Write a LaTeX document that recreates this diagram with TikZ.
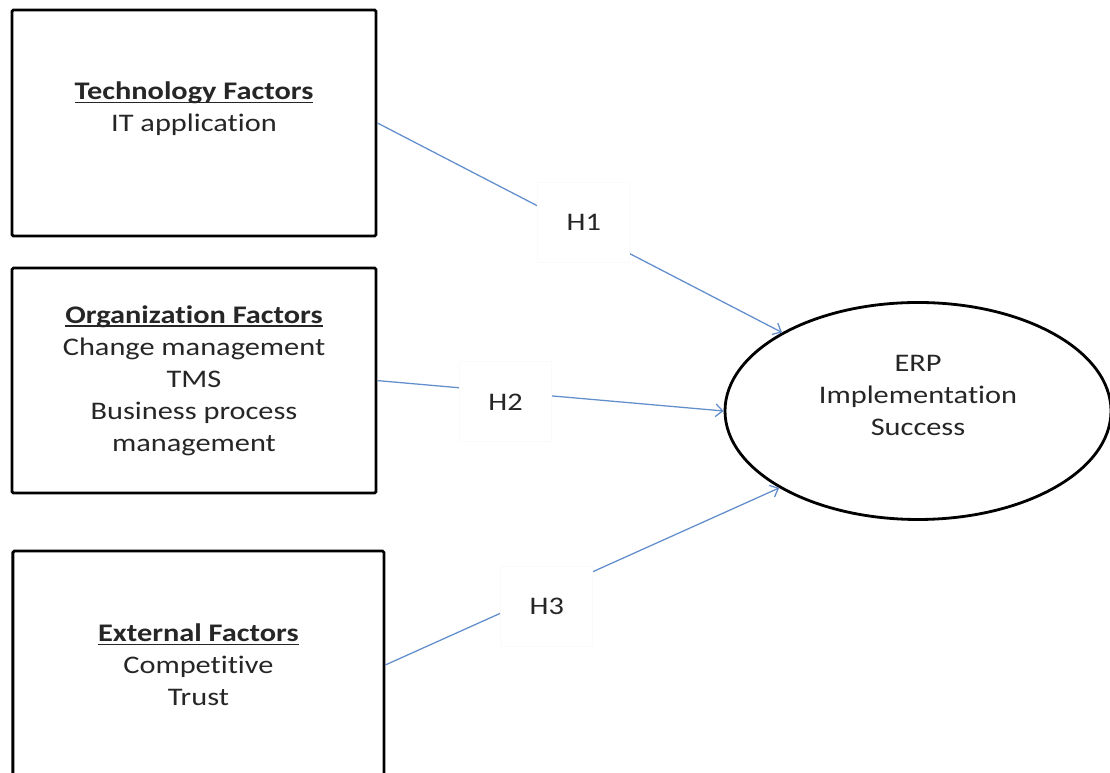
\documentclass[tikz,border=0pt]{standalone}
\usepackage{fontspec}
\setmainfont[FakeStretch=1.2, RawFeature={-liga;-clig;-calt;-dlig}]{Carlito}
\usetikzlibrary{arrows.meta,shapes.geometric}

\definecolor{linkblue}{RGB}{98,142,204}
\definecolor{textgray}{RGB}{38,38,38}
\newcommand{\heading}[1]{\setbox0\hbox{\bfseries #1}\rlap{\rule[-2.6pt]{\wd0}{1.3pt}}\box0}

\tikzset{
  factor/.style={draw, line width=2pt, rounded corners=1pt, minimum width=9.1cm, minimum height=5.65cm, align=center, inner sep=0pt},
  outcome/.style={draw, ellipse, line width=2pt, minimum width=9.65cm, minimum height=5.425cm, align=center, inner sep=0pt},
  hyp/.style={fill=white, draw=black!2, minimum width=2.3cm, minimum height=2cm},
  link/.style={draw=linkblue, line width=0.9pt, -{Straight Barb[length=5pt,width=9pt]}},
}

\begin{document}
\begin{tikzpicture}[every node/.style={font=\fontsize{18}{22.8}\selectfont, text=textgray}]
		\useasboundingbox[fill=white] (0,0) rectangle (27.75,19.325);
		% factor boxes
		\node[factor] (tech) at (4.85,16.25) {\heading{Technology Factors}\\IT application\\~};
		\node[factor, minimum height=5.625cm] (org) at (4.85,9.81) {\heading{Organization Factors}\\Change management\\TMS\\Business process\\management};
		\node[factor, minimum width=9.275cm, minimum height=5.7cm] (ext) at (4.96,2.70) {\heading{External Factors}\\Competitive\\Trust};
		% outcome
		\node[outcome] (erp) at (22.95,9.05) {ERP\\Implementation\\Success\\~};
		% hypotheses
		\draw[link] (tech.east) -- node[hyp, pos=0.51, yshift=0.18cm] (h1) {H1} (erp.150);
		\draw[link] (org.east) -- node[hyp, pos=0.37, yshift=-0.25cm] (h2) {H2} (erp.west);
		\draw[link] (ext.east) -- node[hyp, pos=0.41, yshift=-0.35cm] (h3) {H3} (erp.-151);
\end{tikzpicture}
\end{document}
